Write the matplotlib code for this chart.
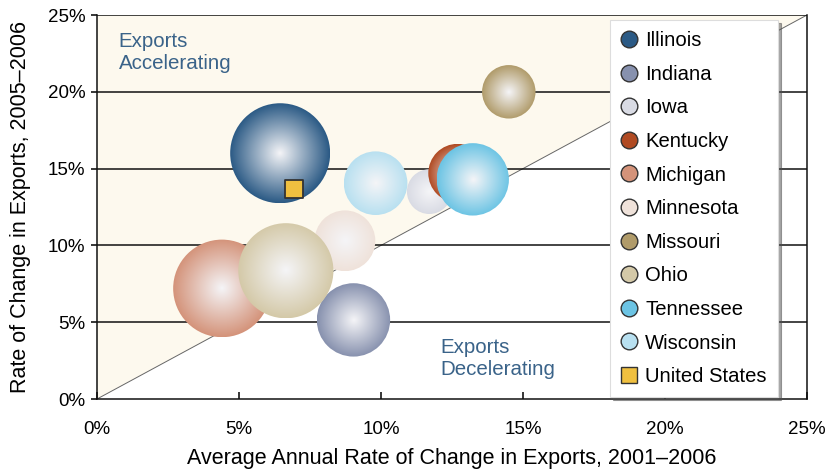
import numpy as np
import matplotlib
matplotlib.use('Agg')
import matplotlib.pyplot as plt
from matplotlib.patches import Ellipse, Polygon
from matplotlib.lines import Line2D
from matplotlib.colors import to_rgb

plt.rcParams['font.family'] = ['Liberation Sans', 'DejaVu Sans']

# 数据
states = ['Illinois', 'Indiana', 'Iowa', 'Kentucky', 'Michigan',
          'Minnesota', 'Missouri', 'Ohio', 'Tennessee', 'Wisconsin']
growth_01_06 = [6.45, 9.03, 11.7, 12.7, 4.4, 8.73, 14.5, 6.65, 13.23, 9.81]
growth_05_06 = [16.0, 5.15, 13.5, 14.7, 7.2, 10.3, 20.0, 8.35, 14.3, 14.05]
exports_bn = [42.0, 22.6, 8.4, 14.5, 40.0, 15.5, 12.0, 38.0, 22.0, 17.0]
colors = ['#2b5a85', '#8791ae', '#d9dbe4', '#b04a22', '#d4937a',
          '#efe2da', '#b09b6a', '#d4c9a8', '#6cc4e4', '#b8e0f0']

us_x = [6.94]
us_y = [13.7]

x_ticks = [0, 5, 10, 15, 20, 25]
y_ticks = [0, 5, 10, 15, 20, 25]


def gradient_image(color, n=200):
    u = np.linspace(-1, 1, n)
    uu, vv = np.meshgrid(u, u)
    t = np.clip(np.sqrt(uu ** 2 + vv ** 2), 0, 1)
    f = t ** 1.0
    c = np.array(to_rgb(color))
    w = np.array([0.96, 0.96, 0.97])
    img = w[None, None, :] * (1 - f[..., None]) + c[None, None, :] * f[..., None]
    return img


fig = plt.figure(figsize=(8.31, 4.70), dpi=100)
ax = fig.add_axes([97 / 831, 1 - 399 / 470, 710 / 831, 384 / 470])
ax.set_xlim(0, 25)
ax.set_ylim(0, 25)

# 背景三角形
ax.add_patch(Polygon([[0, 0], [0, 25], [25, 25]], closed=True,
                     facecolor='#fdf9ee', edgecolor='none', zorder=0))
ax.plot([0, 25], [0, 25], color='#666666', lw=0.7, zorder=1)

for yv in y_ticks[1:]:
    ax.axhline(yv, color='#111111', lw=1.1, zorder=1)

# 像素到数据的比例
px_per_x = ax.get_position().width * fig.get_figwidth() * fig.dpi / 25
px_per_y = ax.get_position().height * fig.get_figheight() * fig.dpi / 25
k = 50 / np.sqrt(42.0)

for i, s in enumerate(states):
    r = k * np.sqrt(exports_bn[i])
    rx = r / px_per_x
    ry = r / px_per_y
    cx, cy = growth_01_06[i], growth_05_06[i]
    clip = Ellipse((cx, cy), 2 * rx, 2 * ry, transform=ax.transData,
                   facecolor='none', edgecolor='none')
    ax.add_patch(clip)
    im = ax.imshow(gradient_image(colors[i]), extent=[cx - rx, cx + rx, cy - ry, cy + ry],
                   origin='lower', aspect='auto', interpolation='bilinear',
                   zorder=2 + i * 0.01)
    im.set_clip_path(clip)

ax.scatter(us_x, us_y, marker='s', s=150, facecolor='#f0c040',
           edgecolor='#333333', linewidth=1.3, zorder=3)

ax.set_xlim(0, 25)
ax.set_ylim(0, 25)

ax.text(0.77, 23.9, 'Exports\nAccelerating', color='#3a6389', fontsize=14.8,
        va='top', ha='left', linespacing=1.2, zorder=4)
ax.text(12.1, 3.95, 'Exports\nDecelerating', color='#3a6389', fontsize=14.8,
        va='top', ha='left', linespacing=1.2, zorder=4)

ax.set_xticks(x_ticks)
ax.set_yticks(y_ticks)
ax.set_xticklabels([f'{v}%' for v in x_ticks], fontsize=13.5)
ax.set_yticklabels([f'{v}%' for v in y_ticks], fontsize=13.5)
ax.tick_params(axis='x', direction='in', length=5, width=1.1, pad=16)
ax.tick_params(axis='y', direction='out', length=4, width=1.1, pad=4.5)
for sp in ax.spines.values():
    sp.set_color('#111111')
    sp.set_linewidth(1.1)
ax.spines['top'].set_visible(False)

ax.set_xlabel('Average Annual Rate of Change in Exports, 2001\u20132006', fontsize=15.5, labelpad=7)
ax.set_ylabel('Rate of Change in Exports, 2005\u20132006', fontsize=15.5, labelpad=12)

handles = [Line2D([], [], marker='o', linestyle='', markersize=12,
                  markerfacecolor=c, markeredgecolor='#333333', markeredgewidth=1.0)
           for c in colors]
handles.append(Line2D([], [], marker='s', linestyle='', markersize=12,
                      markerfacecolor='#f0c040', markeredgecolor='#333333',
                      markeredgewidth=1.0))
leg = ax.legend(handles, states + ['United States'], loc='upper right',
                bbox_to_anchor=(0.959, 0.987), fontsize=14.6, frameon=True,
                fancybox=False, shadow=True, labelspacing=0.72,
                handletextpad=0.4, borderpad=0.55, handlelength=0.8,
                borderaxespad=0)
leg.get_frame().set_edgecolor('#dddddd')
leg.get_frame().set_linewidth(0.8)
leg.set_zorder(10)

fig.savefig('out.png', dpi=100)
